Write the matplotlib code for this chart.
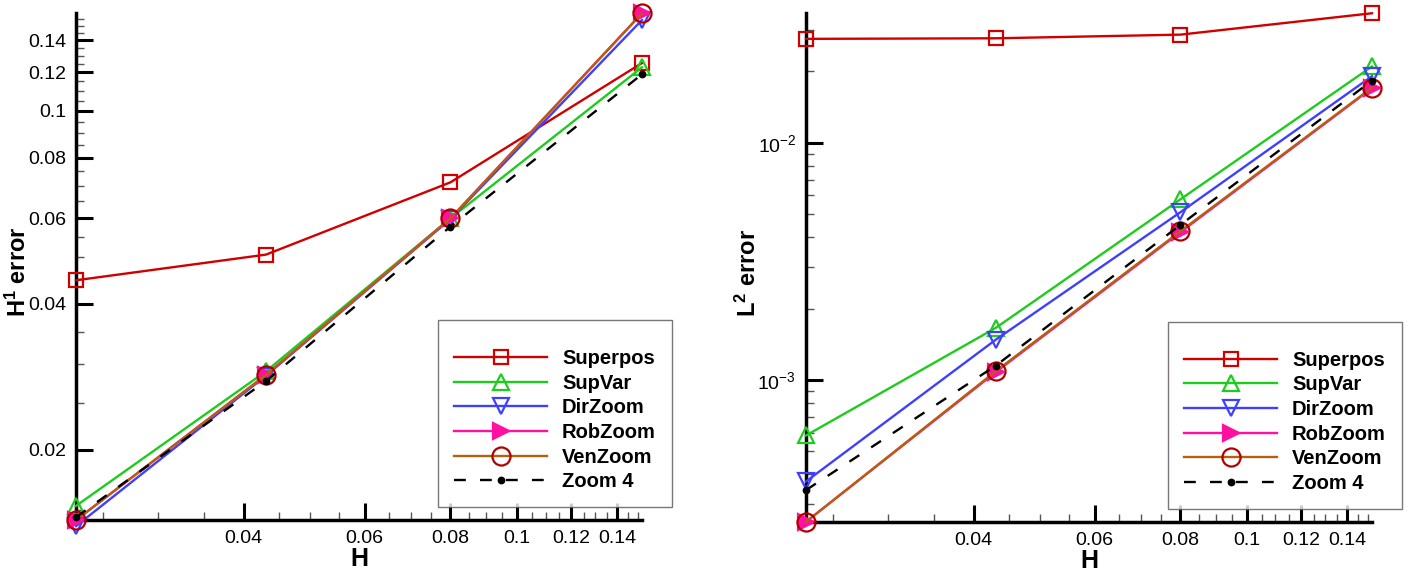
import matplotlib
matplotlib.use('Agg')
import matplotlib.pyplot as plt
import numpy as np
from matplotlib.ticker import FixedLocator, NullFormatter, LogLocator

plt.rcParams['font.family'] = 'Liberation Sans'
plt.rcParams['mathtext.fontset'] = 'custom'
plt.rcParams['mathtext.rm'] = 'Liberation Sans'
plt.rcParams['mathtext.bf'] = 'Liberation Sans:bold'
plt.rcParams['mathtext.it'] = 'Liberation Sans:italic'

# mesh sizes
H = [0.0228, 0.0431, 0.080, 0.152]
methods = ['Superpos', 'SupVar', 'DirZoom', 'RobZoom', 'VenZoom', 'Zoom 4']

# H1 errors (left panel)
h1_superpos = [0.0447, 0.0505, 0.0712, 0.1255]
h1_supvar = [0.0153, 0.0290, 0.0600, 0.1230]
h1_dirzoom = [0.0139, 0.0284, 0.0598, 0.1540]
h1_robzoom = [0.0143, 0.0285, 0.0600, 0.1590]
h1_venzoom = [0.0143, 0.0285, 0.0600, 0.1590]
h1_zoom4 = [0.0145, 0.0277, 0.0577, 0.1190]

# L2 errors (right panel)
l2_superpos = [0.02745, 0.0276, 0.0286, 0.0352]
l2_supvar = [0.000583, 0.00166, 0.00578, 0.0210]
l2_dirzoom = [0.000373, 0.00148, 0.0051, 0.0191]
l2_robzoom = [0.000252, 0.00108, 0.00420, 0.0170]
l2_venzoom = [0.000252, 0.00109, 0.00424, 0.0171]
l2_zoom4 = [0.000343, 0.00115, 0.00451, 0.0183]

x_ticks = [0.04, 0.06, 0.08, 0.1, 0.12, 0.14]
x_ticklabels = ['0.04', '0.06', '0.08', '0.1', '0.12', '0.14']
h1_ticks = [0.02, 0.04, 0.06, 0.08, 0.1, 0.12, 0.14]
h1_ticklabels = ['0.02', '0.04', '0.06', '0.08', '0.1', '0.12', '0.14']
l2_ticks = [1e-3, 1e-2]
l2_ticklabels = [r'$10^{-3}$', r'$10^{-2}$']

styles = [
    dict(color='#d00000', marker='s', ms=10.5, mfc='none', mec='#d00000'),
    dict(color='#1ecc1e', marker='^', ms=11, mfc='none', mec='#1ecc1e'),
    dict(color='#3f3fff', marker='v', ms=11, mfc='none', mec='#3f3fff'),
    dict(color='#ff10a0', marker='>', ms=11, mfc='#ff10a0', mec='#ff10a0'),
    dict(color='#b5600e', marker='o', ms=13, mfc='none', mec='#b20000'),
    dict(color='black', marker='o', ms=4, mfc='black', mec='black', ls=(0, (5, 6))),
]


def draw_panel(ax, series, ylim, ylabel):
    for i, (vals, name) in enumerate(zip(series, methods)):
        st = dict(styles[i])
        ls = st.pop('ls', '-')
        ax.plot(H, vals, ls=ls, lw=1.7, mew=1.6, label=name, clip_on=False,
                zorder=3 + i, **st)
    ax.set_xscale('log')
    ax.set_yscale('log')
    ax.set_xlim(H[0], H[-1])
    ax.set_ylim(*ylim)

    ax.xaxis.set_major_locator(FixedLocator(x_ticks))
    ax.set_xticklabels(x_ticklabels)
    ax.xaxis.set_minor_locator(FixedLocator(np.arange(0.025, 0.1551, 0.005)))
    ax.xaxis.set_minor_formatter(NullFormatter())

    for s in ['top', 'right']:
        ax.spines[s].set_visible(False)
    for s in ['left', 'bottom']:
        ax.spines[s].set_linewidth(2.5)
    ax.tick_params(which='major', direction='in', length=12, width=2.2,
                   labelsize=14, pad=7)
    ax.tick_params(which='minor', direction='in', length=6, width=1.0,
                   color='#555555')

    ax.set_xlabel('H', fontsize=18, fontweight='bold', labelpad=0)
    ax.set_ylabel(ylabel, fontsize=17, fontweight='bold')
    ax.yaxis.set_label_coords(-0.08, 0.49)

    leg = ax.legend(loc='lower left', bbox_to_anchor=(0.64, 0.025),
                    borderaxespad=0, numpoints=1, handlelength=4.6,
                    handletextpad=0.75, labelspacing=0.28, borderpad=0.8,
                    fancybox=False, title=' ', title_fontsize=6,
                    prop={'size': 14.5, 'weight': 'bold'})
    leg.get_frame().set_edgecolor('#555555')
    leg.get_frame().set_linewidth(1.0)
    return leg


fig = plt.figure(figsize=(14.15, 5.76), dpi=100)
ax1 = fig.add_axes([0.0537, 0.097, 0.4, 0.88])
ax2 = fig.add_axes([0.5696, 0.094, 0.4, 0.883])

draw_panel(ax1, [h1_superpos, h1_supvar, h1_dirzoom, h1_robzoom, h1_venzoom, h1_zoom4],
           (0.0143, 0.159), r'$\mathbf{H^1}$ error')
ax1.yaxis.set_major_locator(FixedLocator(h1_ticks))
ax1.set_yticklabels(h1_ticklabels)
ax1.yaxis.set_minor_locator(FixedLocator(np.arange(0.015, 0.1561, 0.005)))
ax1.yaxis.set_minor_formatter(NullFormatter())

draw_panel(ax2, [l2_superpos, l2_supvar, l2_dirzoom, l2_robzoom, l2_venzoom, l2_zoom4],
           (0.000252, 0.0352), r'$\mathbf{L^2}$ error')
ax2.yaxis.set_major_locator(FixedLocator(l2_ticks))
ax2.set_yticklabels(l2_ticklabels)
ax2.yaxis.set_minor_locator(LogLocator(base=10, subs=np.arange(2, 10)))
ax2.yaxis.set_minor_formatter(NullFormatter())

fig.savefig('out.png', dpi=100)
plt.close(fig)
